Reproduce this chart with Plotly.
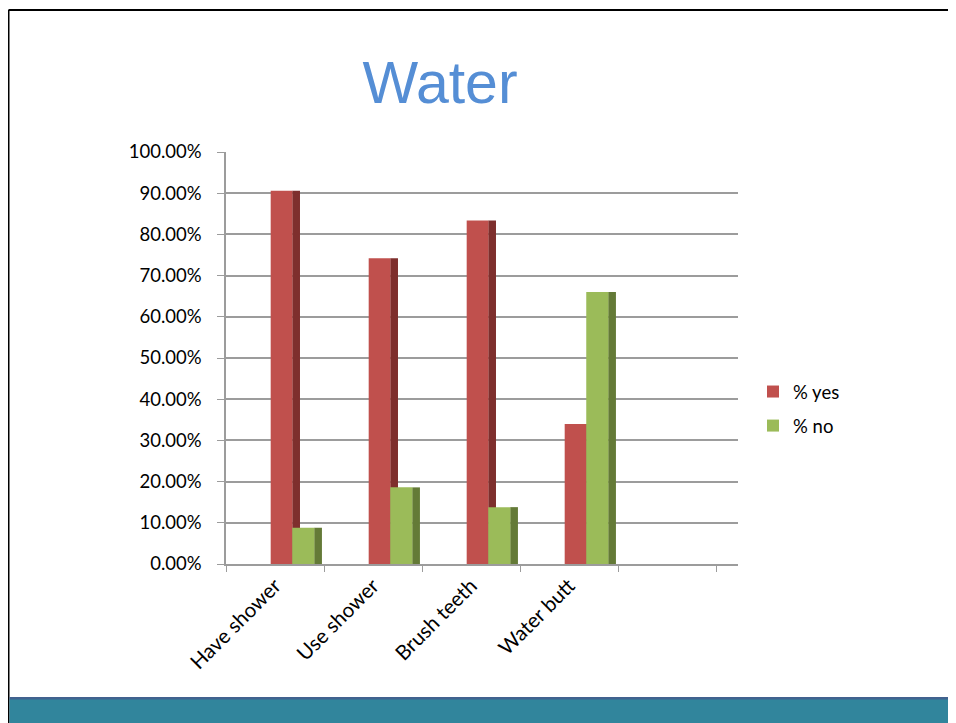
import plotly.graph_objects as go

categories = ["Have shower", "Use shower", "Brush teeth", "Water butt", " "]
pct_yes = [0.906, 0.742, 0.834, 0.340, None]
pct_no = [0.088, 0.186, 0.138, 0.660, None]
series_names = ["% yes", "% no"]
title_text = "Water"

RED, RED_SIDE = "#C0504D", "#7E2F2D"
GREEN, GREEN_SIDE = "#9BBB59", "#647A37"

FONT = "Lato, 'Open Sans', sans-serif"
GRID = "#9C9C9C"

# the page adds an 8px body margin; work in screen coords and subtract it
OFF = 8
W, H = 956 - OFF, 723 - OFF
L, R, T, B = 226 - OFF, 738 - OFF, 152 - OFF, 564 - OFF


def px(xs):
    return (xs - OFF - L) / (R - L)


def py(ys):
    return (B - (ys - OFF)) / (B - T)


fig = go.Figure()
# side faces (drawn first) and front faces
fig.add_trace(go.Bar(x=categories, y=pct_yes, offset=0.176, width=0.079,
                     marker=dict(color=RED_SIDE, line_width=0), showlegend=False,
                     hoverinfo="skip"))
fig.add_trace(go.Bar(x=categories, y=pct_yes, offset=-0.044, width=0.221,
                     marker=dict(color=RED, line_width=0), name=series_names[0],
                     legendgroup="a"))
fig.add_trace(go.Bar(x=categories, y=pct_no, offset=0.40, width=0.079,
                     marker=dict(color=GREEN_SIDE, line_width=0), showlegend=False,
                     hoverinfo="skip"))
fig.add_trace(go.Bar(x=categories, y=pct_no, offset=0.176, width=0.225,
                     marker=dict(color=GREEN, line_width=0), name=series_names[1],
                     legendgroup="b"))

shapes = [
    # slide border (top + left)
    dict(type="line", xref="paper", yref="paper", x0=px(8.5), x1=px(970),
         y0=py(10), y1=py(10), line=dict(color="#000000", width=2)),
    dict(type="line", xref="paper", yref="paper", x0=px(8.5), x1=px(8.5),
         y0=py(10), y1=py(740), line=dict(color="#000000", width=2)),
    # teal footer band
    dict(type="rect", xref="paper", yref="paper", x0=px(9.5), x1=px(970),
         y0=py(699), y1=py(740), fillcolor="#31859C", line_width=0),
    dict(type="rect", xref="paper", yref="paper", x0=px(9.5), x1=px(970),
         y0=py(697), y1=py(699.5), fillcolor="#41628F", line_width=0),
]

fig.update_layout(
    width=W, height=H,
    margin=dict(l=L, r=W - R, t=T, b=H - B, pad=0),
    paper_bgcolor="white", plot_bgcolor="white",
    barmode="overlay",
    font=dict(family=FONT, size=18.5, color="#000000"),
    title=dict(text=title_text, x=(440 - OFF) / W, xanchor="center",
               y=1 - (82 - OFF) / H, yanchor="middle", yref="container",
               font=dict(family="Liberation Sans, Arial, sans-serif", size=59,
                         color="#558ED5")),
    xaxis=dict(type="category", categoryorder="array", categoryarray=categories,
               range=[-0.5, -0.5 + (R - L) / 98.0],
               showline=True, linecolor=GRID, linewidth=1.5,
               ticks="outside", tickson="boundaries", ticklen=6,
               tickcolor=GRID, tickangle=-45, showgrid=False,
               tickfont=dict(size=20.5, color="#000000")),
    yaxis=dict(range=[0, 1], dtick=0.1, tickformat=".2%",
               showline=True, linecolor=GRID, linewidth=1.5,
               ticks="outside", ticklen=7, tickcolor=GRID,
               showgrid=True, gridcolor=GRID, gridwidth=1.5,
               zeroline=False, ticklabelstandoff=12,
               tickfont=dict(size=18.5, color="#000000")),
    legend=dict(x=px(753), y=py(373), xanchor="left", yanchor="top",
                traceorder="grouped", tracegroupgap=7,
                font=dict(size=18.5, color="#000000"),
                bgcolor="rgba(0,0,0,0)", itemwidth=30),
    shapes=shapes,
)

fig.write_html("out.html")
